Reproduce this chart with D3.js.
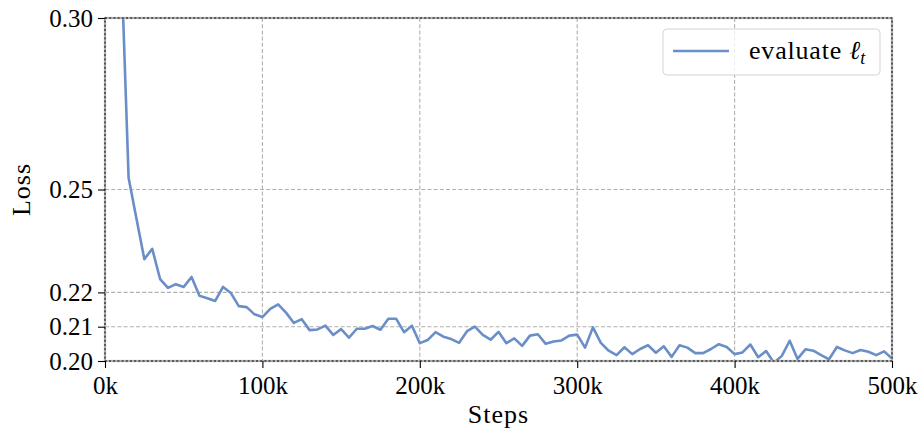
<!DOCTYPE html>
<html>
<head>
<meta charset="utf-8">
<script src="https://cdn.jsdelivr.net/npm/d3@7"></script>
<style>
  body { margin: 0; background: #fff; }
  text { font-family: "Liberation Serif", "DejaVu Serif", serif; fill: #000; }
</style>
</head>
<body>
<div id="d3-container"></div>
<script>
/* CONSTANTS AND GLOBALS */
const width = 921,
  height = 433,
  margin = { top: 18, bottom: 72, left: 105, right: 29 };

// steps in thousands
const steps = [5, 10, 15, 20, 25, 30, 35, 40, 45, 50, 55, 60, 65, 70, 75, 80, 85, 90, 95, 100,
  105, 110, 115, 120, 125, 130, 135, 140, 145, 150, 155, 160, 165, 170, 175, 180, 185, 190, 195, 200,
  205, 210, 215, 220, 225, 230, 235, 240, 245, 250, 255, 260, 265, 270, 275, 280, 285, 290, 295, 300,
  305, 310, 315, 320, 325, 330, 335, 340, 345, 350, 355, 360, 365, 370, 375, 380, 385, 390, 395, 400,
  405, 410, 415, 420, 425, 430, 435, 440, 445, 450, 455, 460, 465, 470, 475, 480, 485, 490, 495, 500];

const evalLoss = [0.380, 0.321, 0.2534, 0.2415, 0.2297, 0.2327, 0.2239, 0.2213, 0.2224, 0.2216,
  0.2245, 0.2190, 0.2183, 0.2175, 0.2216, 0.2198, 0.2160, 0.2157, 0.2136, 0.2128,
  0.2152, 0.2165, 0.2141, 0.2111, 0.2122, 0.2090, 0.2092, 0.2103, 0.2076, 0.2093,
  0.2068, 0.2094, 0.2094, 0.2102, 0.2091, 0.2123, 0.2123, 0.2084, 0.2103, 0.2052,
  0.2061, 0.2084, 0.2071, 0.2064, 0.2053, 0.2087, 0.2100, 0.2076, 0.2062, 0.2085,
  0.2052, 0.2066, 0.2044, 0.2074, 0.2078, 0.2050, 0.2057, 0.2060, 0.2074, 0.2077,
  0.2039, 0.2098, 0.2053, 0.2030, 0.2017, 0.2040, 0.2020, 0.2035, 0.2046, 0.2024,
  0.2043, 0.2012, 0.2046, 0.2039, 0.2023, 0.2023, 0.2035, 0.2049, 0.2041, 0.2020,
  0.2025, 0.2048, 0.2011, 0.2029, 0.1995, 0.2015, 0.2059, 0.2006, 0.2034, 0.2030,
  0.2017, 0.2005, 0.2041, 0.2031, 0.2023, 0.2032, 0.2027, 0.2017, 0.2028, 0.2007];

const xTicks = [0, 100, 200, 300, 400, 500];
const yTicks = [0.20, 0.21, 0.22, 0.25, 0.30];
const lineColor = "#6a8ec8";

let svg, xScale, yScale;

init();

function init() {
  xScale = d3.scaleLinear()
    .domain([0, 500])
    .range([margin.left, width - margin.right]);

  yScale = d3.scaleLinear()
    .domain([0.20, 0.30])
    .range([height - margin.bottom, margin.top]);

  svg = d3.select("#d3-container")
    .append("svg")
    .attr("width", width)
    .attr("height", height);

  svg.append("defs").append("clipPath")
    .attr("id", "plot-clip")
    .append("rect")
    .attr("x", margin.left)
    .attr("y", margin.top)
    .attr("width", width - margin.left - margin.right)
    .attr("height", height - margin.top - margin.bottom);

  // grid
  svg.append("g")
    .selectAll("line")
    .data(xTicks)
    .join("line")
    .attr("x1", d => xScale(d)).attr("x2", d => xScale(d))
    .attr("y1", margin.top).attr("y2", height - margin.bottom)
    .attr("stroke", "#b0b0b0").attr("stroke-width", 1.1)
    .attr("stroke-dasharray", "4,2.2");

  svg.append("g")
    .selectAll("line")
    .data(yTicks)
    .join("line")
    .attr("y1", d => yScale(d)).attr("y2", d => yScale(d))
    .attr("x1", margin.left).attr("x2", width - margin.right)
    .attr("stroke", "#b0b0b0").attr("stroke-width", 1.1)
    .attr("stroke-dasharray", "4,2.2");

  draw();

  // frame: gray solid with black dotted on top
  const frame = svg.append("g");
  frame.append("rect")
    .attr("x", margin.left).attr("y", margin.top)
    .attr("width", width - margin.left - margin.right)
    .attr("height", height - margin.top - margin.bottom)
    .attr("fill", "none").attr("stroke", "#b0b0b0").attr("stroke-width", 2.2);
  frame.append("rect")
    .attr("x", margin.left).attr("y", margin.top)
    .attr("width", width - margin.left - margin.right)
    .attr("height", height - margin.top - margin.bottom)
    .attr("fill", "none").attr("stroke", "#000").attr("stroke-width", 1)
    .attr("stroke-dasharray", "2,2.2");

  // axes
  const xAxis = d3.axisBottom(xScale)
    .tickValues(xTicks)
    .tickFormat(d => d + "k")
    .tickSizeInner(7).tickSizeOuter(0).tickPadding(5);
  const yAxis = d3.axisLeft(yScale)
    .tickValues(yTicks)
    .tickFormat(d3.format(".2f"))
    .tickSizeInner(7).tickSizeOuter(0).tickPadding(5);

  svg.append("g")
    .attr("class", "axis x-axis")
    .attr("transform", `translate(0, ${height - margin.bottom})`)
    .call(xAxis)
    .call(g => g.select(".domain").remove())
    .call(g => g.selectAll("text").attr("font-size", 25).attr("font-family", null).attr("dy", "0.85em"));

  svg.append("g")
    .attr("class", "axis y-axis")
    .attr("transform", `translate(${margin.left}, 0)`)
    .call(yAxis)
    .call(g => g.select(".domain").remove())
    .call(g => g.selectAll("text").attr("font-size", 25).attr("font-family", null));

  svg.selectAll(".tick line").attr("stroke", "#000").attr("stroke-width", 1.1);

  svg.append("text")
    .attr("x", (margin.left + width - margin.right) / 2)
    .attr("y", 423)
    .attr("text-anchor", "middle")
    .attr("font-size", 26)
    .attr("letter-spacing", 1)
    .text("Steps");

  svg.append("text")
    .attr("transform", `translate(30, ${yScale(0.25)}) rotate(-90)`)
    .attr("text-anchor", "middle")
    .attr("font-size", 26)
    .attr("letter-spacing", 1)
    .text("Loss");

  // legend
  const legend = svg.append("g");
  legend.append("rect")
    .attr("x", 663).attr("y", 29).attr("width", 217).attr("height", 46)
    .attr("rx", 4)
    .attr("fill", "#fff").attr("fill-opacity", 0.8)
    .attr("stroke", "#d5d5d5").attr("stroke-width", 1);
  legend.append("line")
    .attr("x1", 673).attr("x2", 729).attr("y1", 51).attr("y2", 51)
    .attr("stroke", lineColor).attr("stroke-width", 2.5);
  const lt = legend.append("text")
    .attr("x", 749).attr("y", 59)
    .attr("font-size", 26);
  lt.append("tspan").attr("letter-spacing", 0.8).text("evaluate ");
  lt.append("tspan").attr("font-style", "italic").text("\u2113");
  lt.append("tspan").attr("font-style", "italic").attr("font-size", 18).attr("dy", 5).text("t");
}

function draw() {
  const data = steps.map((s, i) => ({ step: s, loss: evalLoss[i] }));
  const line = d3.line()
    .x(d => xScale(d.step))
    .y(d => yScale(d.loss));

  svg.append("path")
    .datum(data)
    .attr("clip-path", "url(#plot-clip)")
    .attr("fill", "none")
    .attr("stroke", lineColor)
    .attr("stroke-width", 2.6)
    .attr("stroke-linejoin", "round")
    .attr("d", line);
}
</script>
</body>
</html>
